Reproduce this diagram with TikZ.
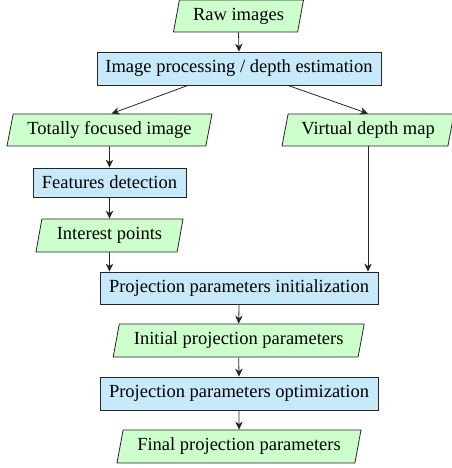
\documentclass[tikz,border=0pt]{standalone}
\usepackage{fontspec}
\setmainfont{Liberation Serif}
\usetikzlibrary{shapes.geometric,arrows.meta}
\definecolor{datagreen}{RGB}{204,255,204}
\definecolor{procblue}{RGB}{199,233,250}
\tikzset{
  base/.style={draw=black!85, line width=0.8pt, inner sep=0pt, font=\fontsize{18.5}{22}\selectfont},
  procbox/.style={base, rectangle, fill=procblue},
  databox/.style={base, trapezium, trapezium left angle=70, trapezium right angle=110,
    trapezium stretches body, fill=datagreen},
  conn/.style={draw=black!85, line width=0.8pt, -{Stealth[length=8pt,width=7.5pt,inset=2.5pt]}}
}
\begin{document}
\begin{tikzpicture}[x=1pt,y=-1pt]
\useasboundingbox (0,0) rectangle (451,468);
\node[databox, minimum width=130pt, minimum height=32pt] (raw) at (238.5,16) {Raw images};
\node[procbox, minimum width=284pt, minimum height=33pt] (ipde) at (239,68.5) {Image processing / depth estimation};
\node[databox, minimum width=205pt, minimum height=32pt] (tf) at (109.5,130) {Totally focused image};
\node[databox, minimum width=172pt, minimum height=32pt] (vdm) at (368,130) {Virtual depth map};
\node[procbox, minimum width=153pt, minimum height=29pt] (fd) at (109.5,182.5) {Features detection};
\node[databox, minimum width=147pt, minimum height=33pt] (ip) at (109.5,235.5) {Interest points};
\node[procbox, minimum width=278pt, minimum height=32pt] (ppi) at (239,288) {Projection parameters initialization};
\node[databox, minimum width=251pt, minimum height=33pt] (init) at (238.7,340.5) {Initial projection parameters};
\node[procbox, minimum width=278pt, minimum height=33pt] (ppo) at (239,393.5) {Projection parameters optimization};
\node[databox, minimum width=244pt, minimum height=33pt] (final) at (239,446.5) {Final projection parameters};

\draw[conn] (raw.south) -- (ipde.north);
\draw[conn] ([xshift=-51pt]ipde.south) -- ([xshift=2pt]tf.north);
\draw[conn] ([xshift=49pt]ipde.south) -- (vdm.north);
\draw[conn] (tf.south) -- (fd.north);
\draw[conn] (fd.south) -- (ip.north);
\draw[conn] (ip.south) -- (ip.south |- ppi.north);
\draw[conn] (vdm.south) -- (vdm.south |- ppi.north);
\draw[conn] (ppi.south) -- (init.north);
\draw[conn] (init.south) -- (ppo.north);
\draw[conn] (ppo.south) -- (final.north);
\end{tikzpicture}
\end{document}
